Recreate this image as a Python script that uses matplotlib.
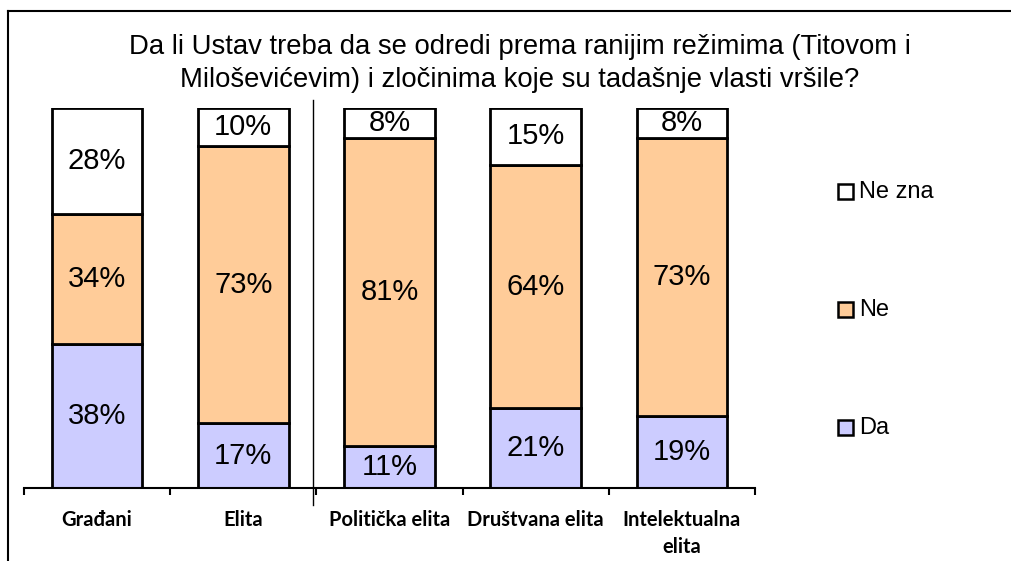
import numpy as np
from matplotlib import pyplot as plt
from matplotlib.lines import Line2D

# survey data (percent)
categories = ['Građani', 'Elita', 'Politička elita', 'Društvana elita', 'Intelektualna\nelita']
da = [38, 17, 11, 21, 19]
ne = [34, 73, 81, 64, 73]
ne_zna = [28, 10, 8, 15, 8]
series_names = ['Da', 'Ne', 'Ne zna']
title = 'Da li Ustav treba da se odredi prema ranijim režimima (Titovom i\nMiloševićevim) i zločinima koje su tadašnje vlasti vršile?'

colors = ['#ccccff', '#ffcc99', '#ffffff']
W, H = 1011, 561

fig = plt.figure(figsize=(W / 100, H / 100), dpi=100)
ax = fig.add_axes([24 / W, 1 - 488 / H, (755 - 24) / W, (488 - 108) / H])

x = np.arange(len(categories))
bottom = np.zeros(len(categories))
for vals, c, name in zip([da, ne, ne_zna], colors, series_names):
    vals = np.array(vals)
    ax.bar(x, vals, 0.62, bottom=bottom, color=c, edgecolor='black', linewidth=2, label=name)
    for xi, b, v in zip(x, bottom, vals):
        ax.text(xi, b + v / 2, '%d%%' % v, ha='center', va='center', fontsize=21,
                family='Liberation Sans')
    bottom += vals

ax.set_xlim(-0.5, len(categories) - 0.5)
ax.set_ylim(0, 100)
for s in ['left', 'right', 'top']:
    ax.spines[s].set_visible(False)
ax.spines['bottom'].set_linewidth(1.5)
ax.set_yticks([])
ax.set_xticks(np.arange(-0.5, len(categories), 1.0))
ax.set_xticklabels([])
ax.tick_params(axis='x', which='major', length=5, width=1.5, direction='out')
ax.set_xticks(x, minor=True)
ax.set_xticklabels(categories, minor=True, fontsize=14.5, fontweight='bold',
                   family='Lato', linespacing=1.45)
ax.tick_params(axis='x', which='minor', length=0, pad=16)

# separator between citizens and elites
ax.plot([1.48, 1.48], [102, -4.5], color='black', linewidth=1, clip_on=False)

fig.text(520 / W, 1 - 63.5 / H, title, ha='center', va='center', fontsize=19.8,
         family='Liberation Sans', linespacing=1.38)

# legend, drawn by hand with spacing like the original
for name, c, yy in zip(series_names, colors, [428, 310, 192]):
    fig.patches.append(plt.Rectangle((838 / W, 1 - (yy + 7) / H), 15 / W, 15 / H,
                                     transform=fig.transFigure, facecolor=c,
                                     edgecolor='black', linewidth=1.8))
    fig.text(859 / W, 1 - yy / H, name, ha='left', va='center', fontsize=17,
             family='Liberation Sans')

# outer frame (clipped at right/bottom)
fig.add_artist(Line2D([8 / W, 8 / W], [0, 1 - 11 / H], color='black', linewidth=1.5))
fig.add_artist(Line2D([8 / W, 1], [1 - 11 / H, 1 - 11 / H], color='black', linewidth=1.5))

fig.savefig('out.png', dpi=100)
